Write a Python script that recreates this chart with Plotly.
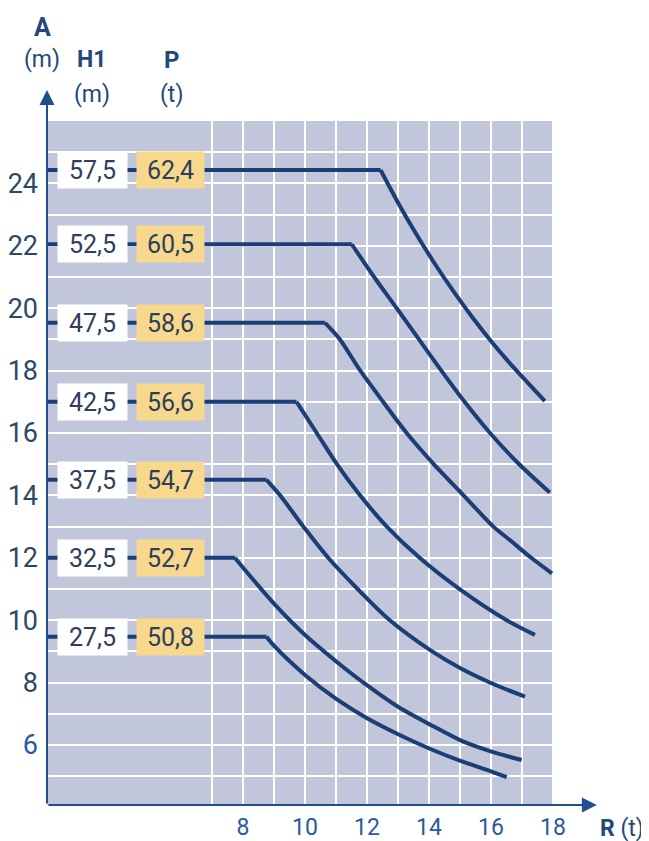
import plotly.graph_objects as go

# ---------------- data ----------------
H1_labels = ["57,5", "52,5", "47,5", "42,5", "37,5", "32,5", "27,5"]
P_labels = ["62,4", "60,5", "58,6", "56,6", "54,7", "52,7", "50,8"]
levels = [24.43, 22.05, 19.53, 17.0, 14.5, 12.0, 9.47]
R_axis_start = 1.68

r_575 = [12.44, 13.0, 13.6, 14.2, 14.8, 15.4, 16.0, 16.6, 17.2, 17.74]
a_575 = [24.43, 23.39, 22.36, 21.41, 20.53, 19.71, 18.95, 18.25, 17.6, 17.02]

r_525 = [11.51, 12.26, 12.96, 13.68, 14.40, 15.15, 15.97, 16.88, 17.90]
a_525 = [22.05, 20.96, 20.0, 19.0, 18.0, 17.0, 16.0, 15.03, 14.09]

r_475 = [10.65, 11.13, 11.77, 12.52, 13.28, 14.14, 15.11, 16.08, 16.61, 17.30, 17.97]
a_475 = [19.53, 19.0, 18.02, 17.0, 16.0, 15.02, 14.01, 13.0, 12.57, 12.0, 11.5]

r_425 = [9.73, 10.38, 11.02, 11.77, 12.64, 13.70, 15.00, 16.51, 17.42]
a_425 = [17.0, 16.0, 15.02, 14.01, 13.0, 12.0, 10.99, 10.0, 9.53]

r_375 = [8.76, 9.19, 9.95, 10.75, 11.70, 12.74, 14.03, 15.02, 16.02, 17.10]
a_375 = [14.5, 14.01, 13.0, 12.0, 11.0, 10.0, 9.05, 8.46, 7.98, 7.55]

r_325 = [7.74, 8.03, 9.03, 10.03, 11.02, 12.02, 13.04, 14.03, 15.02, 16.02, 16.99]
a_325 = [12.0, 11.65, 10.5, 9.5, 8.67, 7.9, 7.2, 6.66, 6.15, 5.79, 5.52]

r_275 = [8.76, 9.03, 10.03, 11.02, 12.02, 13.04, 14.03, 15.02, 16.02, 16.51]
a_275 = [9.47, 9.15, 8.22, 7.47, 6.85, 6.33, 5.88, 5.49, 5.15, 4.97]

x_tickvals = [7, 8, 9, 10, 11, 12, 13, 14, 15, 16, 17, 18]
x_ticktext = ["", "8", "", "10", "", "12", "", "14", "", "16", "", "18"]
y_tickvals = list(range(5, 26))
y_ticktext = ["", '<span style="color:#1f5aa8">6</span>', "", "8", "", "10", "", "12", "", "14",
              "", "16", "", "18", "", "20", "", "22", "", "24", ""]

# ---------------- style ----------------
FONT = "Roboto, sans-serif"
LINE_C = "#1b3e76"
AXIS_C = "#1f4f8f"
BG_C = "#c2c6da"
GRID_C = "#ffffff"
YEL = "#f7d88c"
TITLE_C = "#23487a"

X0, X1 = 1.677, 19.52
Y0, Y1 = 4.077, 27.058

curves = [(r_575, a_575), (r_525, a_525), (r_475, a_475), (r_425, a_425),
          (r_375, a_375), (r_325, a_325), (r_275, a_275)]

fig = go.Figure()
for (rr, aa), lev in zip(curves, levels):
    fig.add_trace(go.Scatter(x=[R_axis_start, rr[0]], y=[lev, aa[0]], mode="lines",
                             line=dict(color=LINE_C, width=4), hoverinfo="skip",
                             showlegend=False))
    fig.add_trace(go.Scatter(x=rr, y=aa, mode="lines",
                             line=dict(color=LINE_C, width=4, shape="spline", smoothing=0.8),
                             hoverinfo="skip", showlegend=False))

fig.add_shape(type="rect", xref="x", yref="y", x0=X0, x1=18, y0=Y0, y1=26,
              fillcolor=BG_C, line=dict(width=0), layer="below")

annotations = []
for h, p, lev in zip(H1_labels, P_labels, levels):
    annotations.append(dict(x=3.145, y=lev, xref="x", yref="y", text=h, showarrow=False,
                            bgcolor="#ffffff", width=69, height=36, borderpad=0,
                            font=dict(family=FONT, size=25, color="#2d3f5b")))
    annotations.append(dict(x=5.66, y=lev, xref="x", yref="y", text=p, showarrow=False,
                            bgcolor=YEL, width=67, height=36, borderpad=0,
                            font=dict(family=FONT, size=25, color="#2d3f5b")))

# axis arrows
annotations.append(dict(x=19.42, y=Y0, ax=X0, ay=Y0, xref="x", yref="y", axref="x", ayref="y",
                        text="", showarrow=True, arrowhead=2, arrowsize=1.5, arrowwidth=2,
                        arrowcolor=AXIS_C))
annotations.append(dict(x=X0, y=26.99, ax=X0, ay=Y0, xref="x", yref="y", axref="x", ayref="y",
                        text="", showarrow=True, arrowhead=2, arrowsize=1.5, arrowwidth=2,
                        arrowcolor=AXIS_C))


def title(txt, x, y, size, xanchor="center"):
    annotations.append(dict(x=x, y=y, xref="paper", yref="paper", text=txt, showarrow=False,
                            xanchor=xanchor, yanchor="middle",
                            font=dict(family=FONT, size=size, color=TITLE_C)))


title("<b>A</b>", -0.0081, 1.0844, 25)
title("(m)", -0.009, 1.0391, 23)
title("<b>H1</b>", 0.0796, 1.0391, 23)
title("(m)", 0.0814, 0.9916, 23)
title("<b>P</b>", 0.2251, 1.0391, 24)
title("(t)", 0.2260, 0.9916, 23)
title("<b>R</b> (t)", 1.083, -0.0321, 23, xanchor="right")

fig.update_layout(
    width=641, height=833,
    margin=dict(l=39, r=49, t=80, b=36, autoexpand=False),
    paper_bgcolor="#ffffff", plot_bgcolor="#ffffff",
    annotations=annotations,
    xaxis=dict(range=[X0, X1], tickvals=x_tickvals, ticktext=x_ticktext, automargin=False,
               showgrid=True, gridcolor=GRID_C, gridwidth=2, zeroline=False,
               showline=False, ticks="", ticklabelstandoff=6,
               tickfont=dict(family=FONT, size=23, color="#2a5a9c")),
    yaxis=dict(range=[Y0, Y1], tickvals=y_tickvals, ticktext=y_ticktext, automargin=False,
               showgrid=True, gridcolor=GRID_C, gridwidth=2, zeroline=False,
               showline=False, ticks="", ticklabelstandoff=8,
               tickfont=dict(family=FONT, size=27, color="#2b4868")),
)

fig.write_html("out.html")
